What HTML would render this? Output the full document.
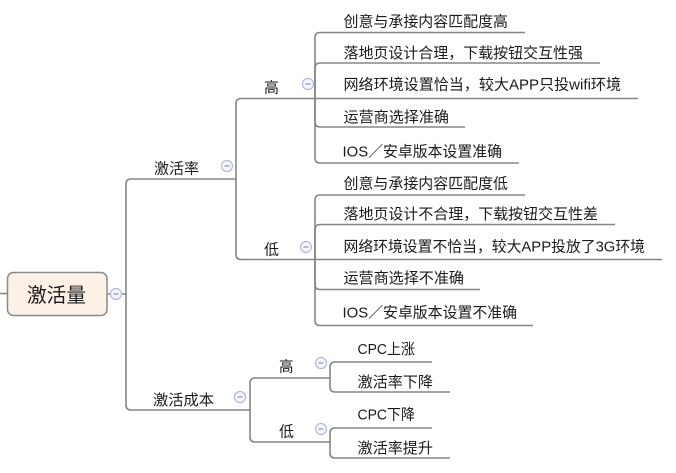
<!DOCTYPE html>
<html><head><meta charset="utf-8"><style>
html,body{margin:0;padding:0;background:#fff;}
svg{display:block;}
text{font-family:"Liberation Sans","Noto Sans CJK SC",sans-serif;fill:#1a1a1a;}
</style></head><body>
<svg width="676" height="473" viewBox="0 0 676 473" xmlns="http://www.w3.org/2000/svg">
<g fill="none" stroke="#858585" stroke-width="1.6">
  <!-- root -->
  <path d="M0,293.5 L8,293.5"/>
  <path d="M107,294 L126,294"/>
  <path d="M126,294 L126,184 Q126,179 131,179 L236,179"/>
  <path d="M126,294 L126,405 Q126,410 131,410 L250,410"/>
  <!-- rate -->
  <path d="M236,179 L236,103.5 Q236,98.5 241,98.5 L638,98.5"/>
  <path d="M236,179 L236,254.5 Q236,259.5 241,259.5 L662,259.5"/>
  <!-- high children -->
  <path d="M315,98.5 L315,37.5 Q315,32.5 320,32.5 L525,32.5"/>
  <path d="M315,98.5 L315,68 Q315,63 320,63 L600,63"/>
  <path d="M315,98.5 L315,122 Q315,127 320,127 L465,127"/>
  <path d="M315,98.5 L315,158 Q315,163 320,163 L519,163"/>
  <!-- low children -->
  <path d="M315,259.5 L315,200 Q315,195 320,195 L525,195"/>
  <path d="M315,259.5 L315,229.5 Q315,224.5 320,224.5 L615,224.5"/>
  <path d="M315,259.5 L315,284.5 Q315,289.5 320,289.5 L480,289.5"/>
  <path d="M315,259.5 L315,320.5 Q315,325.5 320,325.5 L533,325.5"/>
  <!-- cost -->
  <path d="M250,410 L250,383 Q250,378 255,378 L330,378"/>
  <path d="M250,410 L250,437 Q250,442 255,442 L330,442"/>
  <path d="M330,378 L330,367 Q330,362 335,362 L432,362"/>
  <path d="M330,378 L330,387 Q330,392 335,392 L450,392"/>
  <path d="M330,442 L330,433 Q330,428 335,428 L432,428"/>
  <path d="M330,442 L330,453 Q330,458 335,458 L450,458"/>
</g>
<!-- root box -->
<rect x="7.5" y="272.5" width="99.5" height="43" rx="6" ry="6" fill="#fcf1e6" stroke="#8a8a8a" stroke-width="1.5"/>
<text x="27" y="302" font-size="20" textLength="59" lengthAdjust="spacingAndGlyphs">激活量</text>
<!-- collapse circles -->
<g stroke="#b2badb" stroke-width="1.2" fill="#f5f6fb">
  <circle cx="116" cy="294" r="5.5"/>
  <circle cx="227" cy="166" r="5.5"/>
  <circle cx="308" cy="84" r="5.5"/>
  <circle cx="306" cy="247" r="5.5"/>
  <circle cx="240" cy="397" r="5.5"/>
  <circle cx="321" cy="363" r="5.5"/>
  <circle cx="321" cy="429" r="5.5"/>
</g>
<g stroke="#8d94b3" stroke-width="1.2">
  <path d="M113.5,294 L118.5,294"/>
  <path d="M224.5,166 L229.5,166"/>
  <path d="M305.5,84 L310.5,84"/>
  <path d="M303.5,247 L308.5,247"/>
  <path d="M237.5,397 L242.5,397"/>
  <path d="M318.5,363 L323.5,363"/>
  <path d="M318.5,429 L323.5,429"/>
</g>
<!-- level 1 -->
<text x="154" y="173.5" font-size="15" textLength="45" lengthAdjust="spacingAndGlyphs">激活率</text>
<text x="153" y="405" font-size="15" textLength="61" lengthAdjust="spacingAndGlyphs">激活成本</text>
<!-- level 2 -->
<text x="264" y="92.5" font-size="15" textLength="15" lengthAdjust="spacingAndGlyphs">高</text>
<text x="264" y="254.5" font-size="15" textLength="15" lengthAdjust="spacingAndGlyphs">低</text>
<text x="279" y="371.5" font-size="15" textLength="14.5" lengthAdjust="spacingAndGlyphs">高</text>
<text x="279" y="436.5" font-size="15" textLength="15" lengthAdjust="spacingAndGlyphs">低</text>
<!-- high children -->
<text x="343.5" y="26.5" font-size="15" textLength="164.5" lengthAdjust="spacingAndGlyphs">创意与承接内容匹配度高</text>
<text x="343.5" y="58" font-size="15" textLength="239.5" lengthAdjust="spacingAndGlyphs">落地页设计合理，下载按钮交互性强</text>
<text x="343.5" y="89.5" font-size="15" textLength="277.5" lengthAdjust="spacingAndGlyphs">网络环境设置恰当，较大APP只投wifi环境</text>
<text x="343.5" y="122" font-size="15" textLength="105.5" lengthAdjust="spacingAndGlyphs">运营商选择准确</text>
<text x="342.5" y="156.5" font-size="15" textLength="159.5" lengthAdjust="spacingAndGlyphs">IOS／安卓版本设置准确</text>
<!-- low children -->
<text x="343.5" y="188.5" font-size="15" textLength="164.5" lengthAdjust="spacingAndGlyphs">创意与承接内容匹配度低</text>
<text x="343.5" y="219" font-size="15" textLength="254.5" lengthAdjust="spacingAndGlyphs">落地页设计不合理，下载按钮交互性差</text>
<text x="343.5" y="251.5" font-size="15" textLength="301.5" lengthAdjust="spacingAndGlyphs">网络环境设置不恰当，较大APP投放了3G环境</text>
<text x="343.5" y="283" font-size="15" textLength="120.5" lengthAdjust="spacingAndGlyphs">运营商选择不准确</text>
<text x="342.5" y="317.5" font-size="15" textLength="174.5" lengthAdjust="spacingAndGlyphs">IOS／安卓版本设置不准确</text>
<!-- cost children -->
<text x="357.5" y="354" font-size="15" textLength="57.5" lengthAdjust="spacingAndGlyphs">CPC上涨</text>
<text x="357.5" y="387" font-size="15" textLength="75.5" lengthAdjust="spacingAndGlyphs">激活率下降</text>
<text x="357.5" y="419.5" font-size="15" textLength="57.5" lengthAdjust="spacingAndGlyphs">CPC下降</text>
<text x="357.5" y="453" font-size="15" textLength="75.5" lengthAdjust="spacingAndGlyphs">激活率提升</text>
</svg>
</body></html>
